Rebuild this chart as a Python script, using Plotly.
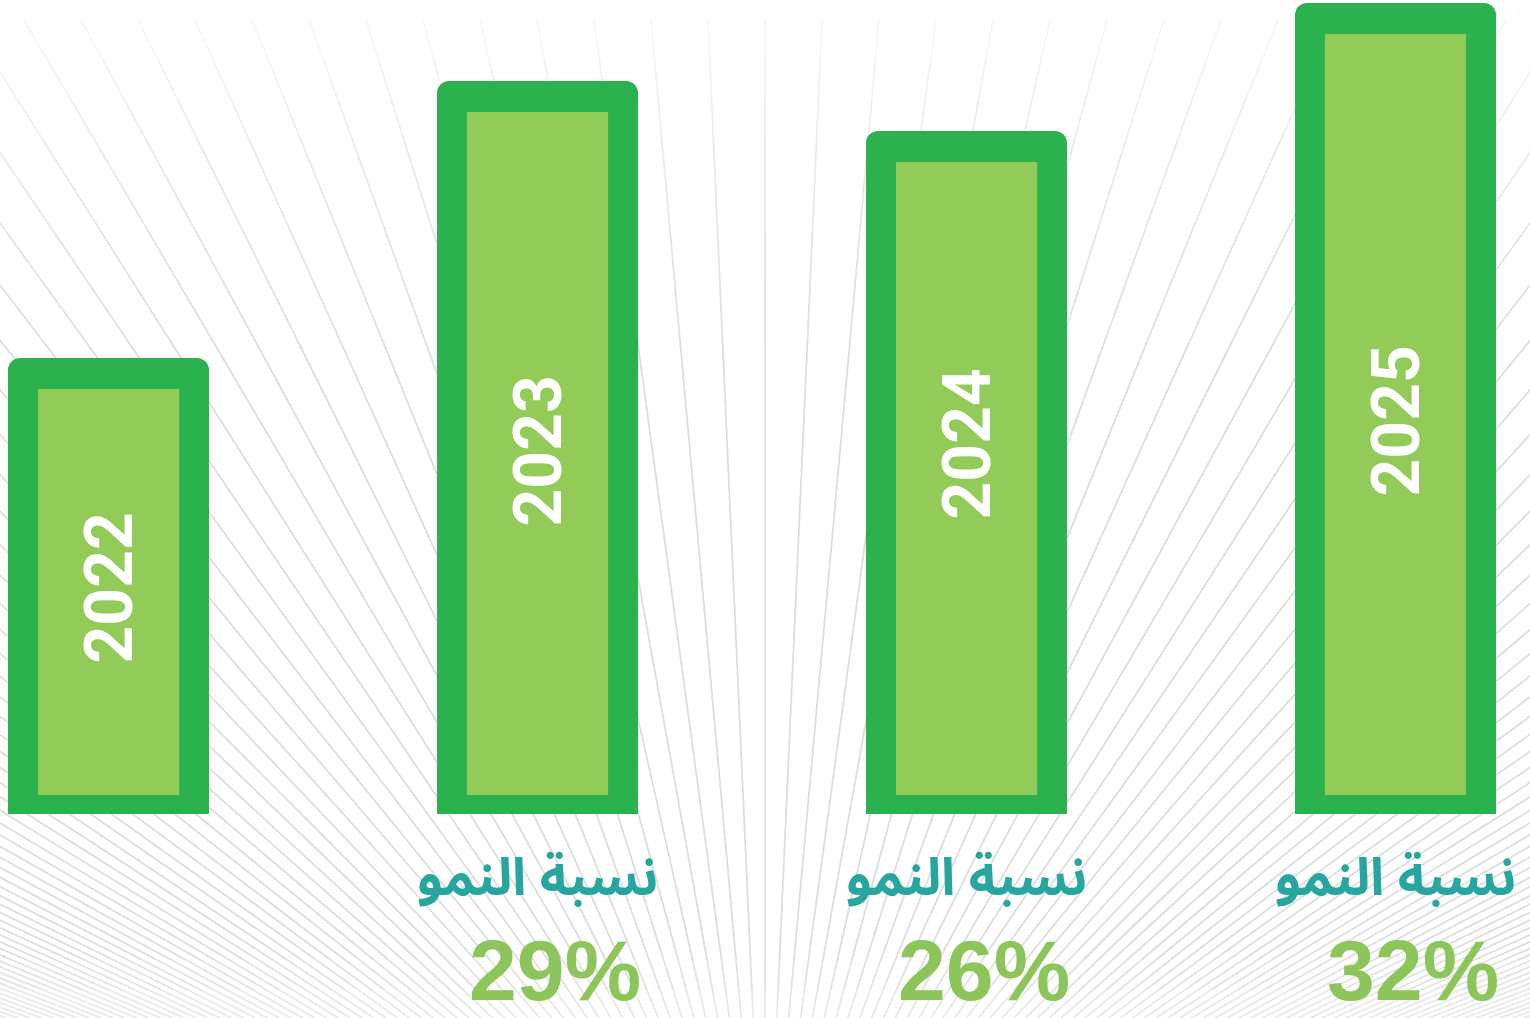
import plotly.graph_objects as go

# --- DATA ---
YEARS = ["2022", "2023", "2024", "2025"]
BAR_HEIGHT = [456, 733, 683, 811]          # bar height above the baseline
GROWTH_PCT = [None, 29, 26, 32]            # growth rate shown under each bar
GROWTH_LABEL = "نسبة النمو"

# --- STYLE ---
W, H = 1530, 1018
BASELINE = 814                             # px from top where bars stand
OUTER_GREEN = "#2BB24E"
INNER_GREEN = "#93CB58"
TEAL = "#27A69F"
PCT_GREEN = "#8CC65B"
BORDER_TOP = 31
BORDER_BOTTOM = 19
OUTER_WIDTH = 0.4685
INNER_WIDTH = 0.329
YEAR_TEXT_Y = [588, 451, 444, 421]         # px from top, centre of the rotated year label

# sunburst background (decoration only)
CX, CY = 765, 1280
TOP_Y = 20
STEP = 57


def ray_path(y0, y1):
    parts = []
    for k in range(-80, 81):
        tx = CX + k * STEP
        xa = CX + (tx - CX) * (CY - y0) / (CY - TOP_Y)
        xb = CX + (tx - CX) * (CY - y1) / (CY - TOP_Y)
        if (xa < -5 and xb < -5) or (xa > W + 5 and xb > W + 5):
            continue
        parts.append(f"M{xa / W:.5f},{1 - y0 / H:.5f} L{xb / W:.5f},{1 - y1 / H:.5f}")
    return " ".join(parts)


def grey(level):
    v = int(round(level))
    return f"rgb({v},{v},{v})"


fig = go.Figure()

# outer (dark green) bar = border
fig.add_trace(go.Bar(
    x=YEARS,
    y=BAR_HEIGHT,
    width=OUTER_WIDTH,
    marker=dict(color=OUTER_GREEN, line=dict(width=0), cornerradius=12),
    hoverinfo="skip",
))

# inner (light green) fill
fig.add_trace(go.Bar(
    x=YEARS,
    y=[h - BORDER_TOP - BORDER_BOTTOM for h in BAR_HEIGHT],
    base=BORDER_BOTTOM,
    width=INNER_WIDTH,
    marker=dict(color=INNER_GREEN, line=dict(width=0)),
    hovertemplate="%{x}<extra></extra>",
))

# year labels inside the bars
for i, year in enumerate(YEARS):
    fig.add_annotation(
        x=i, y=BASELINE - YEAR_TEXT_Y[i], xref="x", yref="y",
        text=f"<b>{year}</b>", showarrow=False, textangle=-90,
        font=dict(family="Roboto, Liberation Sans, sans-serif", size=66, color="white"),
        xanchor="center", yanchor="middle",
    )

# growth labels under the bars
for i, g in enumerate(GROWTH_PCT):
    if g is None:
        continue
    fig.add_annotation(
        x=i, y=BASELINE - 878, xref="x", yref="y",
        text=f"<b>{GROWTH_LABEL}</b>", showarrow=False,
        font=dict(family="Noto Sans Arabic, DejaVu Sans, sans-serif", size=52, color=TEAL),
        xanchor="center", yanchor="middle",
    )
    fig.add_annotation(
        x=i, y=BASELINE - 970, xref="x", yref="y", xshift=17,
        text=f"<b>{g}%</b>", showarrow=False,
        font=dict(family="Liberation Sans, Arial, sans-serif", size=86, color=PCT_GREEN),
        xanchor="center", yanchor="middle",
    )

# fading rays: lighter towards the top
shapes = []
edges = [TOP_Y, 60, 100, 140, 185, 230, 280, 340, 960, 990, H]
levels = [246, 242, 238, 234, 231, 228, 225, 221, 226, 232]
for y0, y1, lv in zip(edges[:-1], edges[1:], levels):
    shapes.append(dict(
        type="path", xref="paper", yref="paper", layer="below",
        path=ray_path(y0, y1), line=dict(color=grey(lv), width=1.8),
    ))

fig.update_layout(
    width=W,
    height=H,
    margin=dict(l=0, r=0, t=0, b=0),
    paper_bgcolor="white",
    plot_bgcolor="white",
    barmode="overlay",
    showlegend=False,
    shapes=shapes,
    xaxis=dict(
        type="category",
        range=[-108.5 / 429, (W - 108.5) / 429],
        visible=False,
        fixedrange=True,
    ),
    yaxis=dict(
        range=[BASELINE - H, BASELINE],
        visible=False,
        fixedrange=True,
    ),
)

fig.write_html(
    "out.html",
    config={"displayModeBar": False},
    post_script="document.body.style.margin='0';",
)
